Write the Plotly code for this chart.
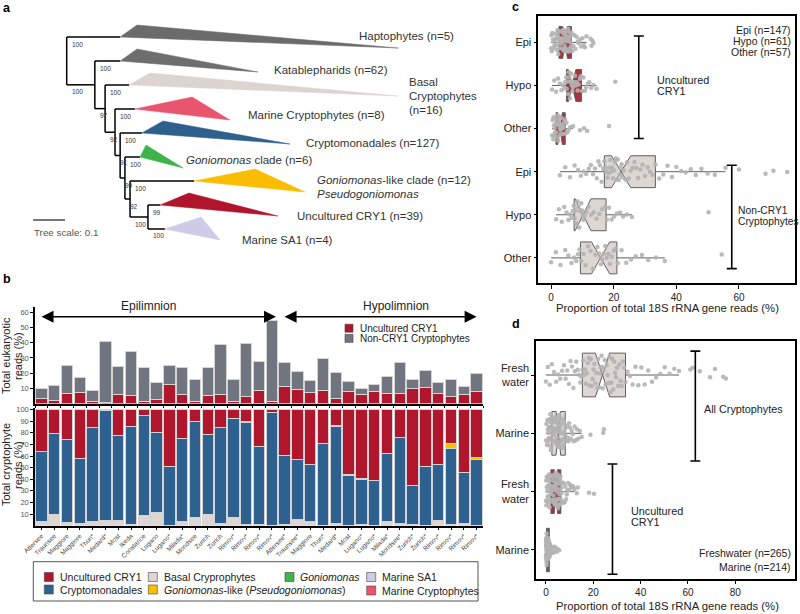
import plotly.graph_objects as go

W, H = 800, 614
FONT = "Liberation Sans, Arial, sans-serif"

RED = "#b0172d"
BLUE = "#2e6190"
GREY = "#70757f"
BASAL = "#ddd6d3"
YELLOW = "#fbbf00"
GREEN = "#3cb54b"
SA1 = "#cecbe6"
MARCRYPT = "#e9546f"
BOXRED = "#a6343d"
BOXDARK = "#2c1010"
DOT = "#b3b3b3"

# ---------------- a: collapsed 18S tree ----------------
clade_labels = [["Haptophytes (n=5)"], ["Katablepharids (n=62)"], ["Basal", "Cryptophytes", "(n=16)"],
                ["Marine Cryptophytes (n=8)"], ["Cryptomonadales (n=127)"], ["<i>Goniomonas</i> clade (n=6)"],
                ["<i>Goniomonas</i>-like clade (n=12)", "<i>Pseudogoniomonas</i>"],
                ["Uncultured CRY1 (n=39)"], ["Marine SA1 (n=4)"]]
clade_colors = ["#6b6b6b", "#6e6e6e", "#dbd4d1", MARCRYPT, "#2f5f8c", "#3cb44b", "#fbbd02", "#b0152c", SA1]
clade_stem = [0.167, 0.167, 0.195, 0.213, 0.235, 0.229, 0.398, 0.292, 0.307]
clade_min_tip = [0.220, 0.220, 0.260, 0.392, 0.301, 0.248, 0.589, 0.382, 0.420]
clade_max_tip = [1.036, 0.598, 1.036, 0.510, 0.698, 0.364, 0.745, 0.660, 0.479]
clade_support = [100, 100, 100, 100, 100, 100, 100, 99, 100]
node_depth = [0.0, 0.088, 0.120, 0.151, 0.167, 0.182, 0.198, 0.254]
node_support = [None, 100, 97, 92, 91, 99, 92, 100]
tree_scale = 0.1

# ---------------- b: lake samples ----------------
lakes = ["Attersee", "Traunsee", "Maggiore", "Maggiore", "Thun*", "Medard*", "Most", "Ikeda",
         "Constance", "Lugano", "Lugano*", "Milada*", "Mondsee", "Zurich", "Zurich",
         "Rimov*", "Rimov*", "Rimov*", "Rimov*",
         "Attersee*", "Traunsee*", "Maggiore", "Thun*", "Medard*", "Most", "Lugano*", "Lugano*",
         "Milada*", "Mondsee*", "Zurich*", "Zurich*", "Rimov*", "Rimov*", "Rimov*", "Rimov*"]
# % of total eukaryotic reads
cry1_euk = [3.6, 2.3, 6.7, 7.1, 1.4, 0.5, 5.6, 5.2, 1.0, 2.7, 12.2, 6.0, 1.6, 5.2, 6.0, 1.2, 4.3, 8.7, 1.6,
            10.9, 9.1, 7.3, 8.7, 3.0, 8.2, 6.0, 7.6, 6.9, 6.5, 10.2, 10.6, 6.5, 4.9, 6.0, 8.2]
noncry1_euk = [6.2, 9.4, 18.0, 9.7, 7.0, 40.4, 18.9, 28.7, 22.4, 11.2, 12.5, 17.6, 13.9, 18.8, 32.5, 14.7, 35.3,
               19.0, 53.3, 16.4, 11.8, 7.9, 20.8, 17.3, 6.6, 4.0, 5.2, 10.8, 20.4, 5.3, 10.8, 7.2, 11.2, 4.9, 11.6]
# % of total cryptophyte reads
basal = [3.7, 10.0, 2.5, 1.7, 3.4, 4.5, 4.3, 1.1, 8.9, 11.4, 0.5, 3.7, 7.4, 9.7, 1.7, 7.4, 0.8, 0.8, 0.5,
         0.8, 5.1, 3.7, 0.2, 1.7, 0.5, 1.1, 0.5, 3.4, 2.0, 1.1, 0.5, 4.5, 1.0, 1.7, 0.5]
cryptomonadales = [59.8, 69.3, 71.4, 55.8, 81.4, 94.8, 73.0, 84.3, 86.5, 68.5, 50.1, 71.3, 82.3, 68.8, 83.1,
                   84.9, 88.2, 67.2, 96.9, 59.5, 51.8, 48.6, 70.5, 83.9, 42.9, 38.8, 38.3, 58.7, 74.4, 33.6,
                   50.1, 48.6, 65.4, 44.0, 56.9]
gonio_like = [0, 0, 0, 0, 0, 0, 0, 0, 0, 0, 0, 0, 0, 0, 0, 0, 0.5, 0, 0,
              0, 0, 0, 0, 1.0, 0.3, 0.4, 0, 0.5, 0, 0, 0, 0, 4.6, 0, 1.7]
cry1_crypto = [36.5, 20.7, 26.1, 42.5, 15.2, 0.7, 22.7, 14.6, 4.6, 20.1, 49.4, 25.0, 10.3, 21.5, 15.2,
               7.7, 10.5, 32.0, 2.6, 39.7, 43.1, 47.7, 29.3, 13.4, 56.3, 59.7, 61.2, 37.4, 23.6, 65.3,
               49.4, 46.9, 29.0, 54.3, 40.9]

# ---------------- c: CRY1 / non-CRY1 by layer ----------------
c_groups = ["Epi", "Hypo", "Other", "Epi", "Hypo", "Other"]
cry1_epi = [0.0, 0.1, 0.2, 0.4, 0.6, 0.8, 1.0, 1.1, 1.3, 1.5, 1.6, 1.8, 1.9, 2.0, 2.1, 2.3, 2.4, 2.5,
            2.6, 2.7, 2.8, 3.0, 3.1, 3.2, 3.3, 3.5, 3.6, 3.7, 3.8, 3.9, 4.0, 4.1, 4.2, 4.3, 4.4, 4.5,
            4.7, 4.8, 4.9, 5.0, 5.1, 5.2, 5.3, 5.5, 5.6, 5.7, 5.8, 5.9, 6.0, 6.1, 6.2, 6.3, 6.5,
            6.8, 7.1, 7.4, 7.8, 8.1, 8.5, 8.8, 9.2, 9.6, 10.0, 10.4, 10.8, 11.3, 12.6, 12.9, 13.2, 13.5]
cry1_hypo = [0.3, 1.0, 1.6, 2.2, 2.8, 3.3, 3.8, 4.2, 4.5, 4.8, 5.0, 5.2, 5.4, 5.6, 5.8, 6.0, 6.2, 6.3, 6.5, 6.6,
             6.8, 7.0, 7.3, 7.6, 7.9, 8.2, 8.5, 8.8, 9.2, 9.5, 9.9, 10.3, 10.8, 11.2, 11.7, 12.2, 12.8, 13.5,
             14.5, 20.5]
cry1_other = [0.3, 0.5, 0.7, 0.8, 0.9, 1.0, 1.1, 1.2, 1.4, 1.5, 1.6, 1.7, 1.9, 2.0, 2.2, 2.3, 2.4, 2.6, 2.7,
              2.8, 2.9, 3.0, 3.2, 3.3, 3.5, 3.7, 3.8, 4.0, 4.2, 4.4, 4.6, 4.9, 5.2, 5.6, 6.1, 7.0, 9.2, 10.5,
              11.5, 18.5]
non_epi = [2.8, 4.5, 6.0, 7.5, 8.6, 9.5, 10.4, 11.2, 12.0, 12.7, 13.4, 14.0, 14.6, 15.1, 15.6, 16.1, 16.6, 17.0,
           17.3, 17.6, 18.0, 18.3, 18.6, 18.9, 19.2, 19.5, 19.8, 20.1, 20.4, 20.7, 21.0, 21.3, 21.6, 21.9, 22.2,
           22.5, 22.7, 23.2, 23.7, 24.2, 24.8, 25.4, 26.0, 26.6, 27.2, 27.8, 28.5, 29.2, 30.0, 30.8, 31.6, 32.4,
           33.3, 34.5, 35.8, 37.2, 38.6, 40.0, 41.5, 43.0, 44.6, 46.2, 48.0, 50.0, 52.3, 55.7, 60.0, 68.5, 71.0,
           75.4]
non_hypo = [1.6, 2.5, 3.4, 4.2, 4.9, 5.5, 6.0, 6.5, 6.9, 7.2, 7.5, 7.8, 8.1, 8.4, 8.7, 9.0, 9.3, 9.6, 9.9, 10.1,
            10.3, 10.7, 11.3, 12.0, 12.8, 13.6, 14.5, 15.4, 16.3, 17.3, 17.8, 18.5, 19.3, 20.1, 21.0, 22.0,
            23.0, 24.2, 25.8, 50.3]
non_other = [0.0, 1.5, 3.0, 4.5, 5.5, 6.5, 7.3, 8.0, 8.6, 9.1, 9.6, 10.3, 11.0, 11.8, 12.6, 13.4, 14.1, 14.8,
             15.3, 15.7, 15.9, 16.3, 16.8, 17.3, 17.8, 18.3, 18.8, 19.4, 20.0, 20.7, 21.3, 22.5, 24.0, 25.5,
             27.0, 29.0, 31.0, 33.5, 36.3, 54.5]
c_counts = ["Epi (n=147)", "Hypo (n=61)", "Other (n=57)"]

# ---------------- d: freshwater vs marine ----------------
d_groups = ["Fresh<br>water", "Marine", "Fresh<br>water", "Marine"]
all_fresh = [0.0, 0.8, 1.6, 2.5, 3.4, 4.3, 5.2, 6.0, 6.8, 7.6, 8.3, 9.0, 9.7, 10.4, 11.0, 11.6, 12.2, 12.8,
             13.4, 14.0, 14.5, 15.0, 15.4, 15.7, 16.1, 16.5, 16.9, 17.3, 17.7, 18.1, 18.5, 18.9, 19.3, 19.7,
             20.1, 20.5, 20.9, 21.3, 21.7, 22.1, 22.5, 22.9, 23.2, 23.5, 23.8, 24.0, 24.4, 24.8, 25.2, 25.6,
             26.0, 26.4, 26.8, 27.2, 27.6, 28.0, 28.4, 28.8, 29.2, 29.6, 30.0, 30.5, 31.0, 31.5, 32.0, 32.5,
             33.0, 33.6, 34.5, 35.5, 36.6, 37.8, 39.0, 40.3, 41.7, 43.2, 44.8, 46.5, 48.3, 50.2, 52.2, 54.2,
             56.2, 61.0, 62.0, 65.0, 69.3, 71.4, 74.9, 76.0]
all_marine = [0.0, 0.2, 0.4, 0.6, 0.8, 1.0, 1.1, 1.2, 1.3, 1.4, 1.5, 1.6, 1.7, 1.8, 1.9, 2.0, 2.1, 2.2, 2.3,
              2.4, 2.6, 2.8, 3.0, 3.2, 3.4, 3.5, 3.7, 3.8, 3.9, 4.0, 4.2, 4.3, 4.5, 4.6, 4.7, 4.8, 4.9, 5.0,
              5.1, 5.2, 5.3, 5.4, 5.5, 5.6, 5.7, 5.8, 5.9, 6.0, 6.2, 6.3, 6.5, 6.7, 6.9, 7.0, 7.2, 7.4, 7.5,
              7.7, 7.8, 8.0, 8.3, 8.6, 8.9, 9.2, 9.5, 9.8, 10.1, 10.5, 10.9, 11.3, 11.7, 12.1, 12.6, 13.1,
              13.6, 14.3, 15.1, 18.8, 24.2, 24.5]
cry1_fresh = [0.0, 0.1, 0.2, 0.3, 0.4, 0.5, 0.6, 0.7, 0.8, 0.9, 1.0, 1.1, 1.2, 1.3, 1.4, 1.5, 1.6, 1.7, 1.8,
              1.9, 2.0, 2.05, 2.1, 2.2, 2.3, 2.4, 2.5, 2.6, 2.7, 2.8, 2.9, 3.0, 3.1, 3.2, 3.3, 3.4, 3.5, 3.6,
              3.7, 3.8, 3.9, 4.0, 4.05, 4.1, 4.15, 4.25, 4.35, 4.45, 4.55, 4.65, 4.75, 4.85, 4.95, 5.05, 5.15,
              5.25, 5.35, 5.45, 5.55, 5.65, 5.75, 5.85, 5.95, 6.0, 6.05, 6.1, 6.15, 6.3, 6.5, 6.7, 6.9, 7.1,
              7.3, 7.6, 7.9, 8.2, 8.5, 8.8, 9.1, 9.4, 9.8, 10.2, 10.6, 11.0, 11.5, 12.0, 13.0, 13.5, 18.2, 20.3]
cry1_marine = [0.0, 0.0, 0.05, 0.1, 0.1, 0.15, 0.15, 0.2, 0.2, 0.2, 0.25, 0.25, 0.3, 0.3, 0.3, 0.3, 0.3, 0.3,
               0.35, 0.4, 0.4, 0.45, 0.5, 0.5, 0.55, 0.6, 0.6, 0.65, 0.7, 0.7, 0.75, 0.75, 0.8, 0.8, 0.8, 0.8,
               0.85, 0.85, 0.9, 0.9, 0.95, 1.0, 1.0, 1.05, 1.1, 1.1, 1.15, 1.2, 1.25, 1.3, 1.3, 1.35, 1.4,
               1.5, 1.6, 1.7, 1.8, 1.9, 2.0, 2.2, 2.4, 2.6, 2.8, 3.0, 3.3, 3.7, 4.1, 4.6, 5.1, 5.6]
d_counts = ["Freshwater (n=265)", "Marine (n=214)"]

XTITLE = "Proportion of total 18S rRNA gene reads (%)"


def px(x):
    return x / W


def py(y):
    return 1 - y / H


fig = go.Figure()
ann = []
shapes = []


def text(x, y, s, size=11, anchor="left", color="#222", **kw):
    ann.append(dict(x=px(x), y=py(y), xref="paper", yref="paper", text=s, showarrow=False,
                    xanchor=anchor, yanchor="middle", font=dict(size=size, color=color), **kw))


# ---------- panel a ----------
leaf_y = list(range(len(clade_labels)))
nn = len(node_depth)
node_y = [0.0] * nn
node_y[-1] = (leaf_y[-2] + leaf_y[-1]) / 2
for k in range(nn - 2, -1, -1):
    node_y[k] = (leaf_y[k] + node_y[k + 1]) / 2

lx, ly = [], []
for k in range(nn):
    last = k == nn - 1
    low = leaf_y[k + 1] if last else node_y[k + 1]
    lx += [node_depth[k], node_depth[k], None]
    ly += [leaf_y[k], low, None]
    lx += [node_depth[k], clade_stem[k], None]
    ly += [leaf_y[k], leaf_y[k], None]
    if last:
        lx += [node_depth[k], clade_stem[k + 1], None]
        ly += [leaf_y[k + 1], leaf_y[k + 1], None]
    else:
        lx += [node_depth[k], node_depth[k + 1], None]
        ly += [node_y[k + 1], node_y[k + 1], None]

fig.add_trace(go.Scatter(x=lx, y=ly, mode="lines", line=dict(color="black", width=1.5),
                         xaxis="x5", yaxis="y5", hoverinfo="skip", showlegend=False))
for i in range(len(clade_labels)):
    fig.add_trace(go.Scatter(x=[clade_stem[i], clade_min_tip[i], clade_max_tip[i], clade_stem[i]],
                             y=[i, i - 0.5, i + 0.46, i], mode="lines", fill="toself",
                             fillcolor=clade_colors[i], line=dict(color=clade_colors[i], width=0.5),
                             xaxis="x5", yaxis="y5", hoverinfo="skip", showlegend=False))
fig.add_trace(go.Scatter(x=[-0.105, -0.105 + tree_scale], y=[7.625, 7.625], mode="lines",
                         line=dict(color="#777", width=2), xaxis="x5", yaxis="y5",
                         hoverinfo="skip", showlegend=False))

for i, s in enumerate(clade_support):
    parent = node_depth[min(i, nn - 1)]
    ann.append(dict(x=parent, y=leaf_y[i], xref="x5", yref="y5", text=str(s), showarrow=False,
                    xanchor="left", yanchor="middle", xshift=3, yshift=-7,
                    font=dict(size=6.5, color="#333")))
for k in range(1, nn):
    ann.append(dict(x=node_depth[k - 1], y=node_y[k], xref="x5", yref="y5", text=str(node_support[k]),
                    showarrow=False, xanchor="left", yanchor="middle", xshift=3, yshift=-7,
                    font=dict(size=6.5, color="#333")))

label_pos = [(357, 35.5), (272, 70.5), (407, 82), (246, 115), (304, 143), (184, 160),
             (315, 179.5), (295, 216), (240, 239.5)]
for lines, (x0, y0) in zip(clade_labels, label_pos):
    for j, s in enumerate(lines):
        text(x0, y0 + 14 * j, s, size=11.5, color="#333")
text(32, 233, "Tree scale: 0.1", size=9.8, color="#555")

# ---------- panel b ----------
xs = list(range(len(lakes)))
bar_line = dict(color="#d4d4d4", width=1)
fig.add_trace(go.Bar(x=xs, y=cry1_euk, marker=dict(color=RED, line=bar_line), xaxis="x", yaxis="y",
                     name="Uncultured CRY1", showlegend=False))
fig.add_trace(go.Bar(x=xs, y=noncry1_euk, marker=dict(color=GREY, line=bar_line), xaxis="x", yaxis="y",
                     name="Non-CRY1 Cryptophytes", showlegend=False))
for vals, col, nm in [(basal, BASAL, "Basal Cryprophytes"), (cryptomonadales, BLUE, "Cryptomonadales"),
                      (gonio_like, YELLOW, "Goniomonas-like"), (cry1_crypto, RED, "Uncultured CRY1")]:
    fig.add_trace(go.Bar(x=xs, y=vals, marker=dict(color=col, line=bar_line), xaxis="x2", yaxis="y2",
                         name=nm, showlegend=False))

for x0, x1, lab, xc in [(-0.11, 18.33, "Epilimnion", 8.33), (18.88, 34.0, "Hypolimnion", 27.7)]:
    ann.append(dict(x=x1, y=57.1, ax=x0, ay=57.1, xref="x", yref="y", axref="x", ayref="y", text="",
                    showarrow=True, arrowhead=2, startarrowhead=2, arrowside="end+start",
                    arrowsize=1.6, startarrowsize=1.6, arrowwidth=1.5, arrowcolor="black"))
    ann.append(dict(x=xc, y=py(306), xref="x", yref="paper", text=lab, showarrow=False,
                    xanchor="center", yanchor="middle", font=dict(size=12, color="#222")))

# top legend
for yy, col, lab in [(328.2, RED, "Uncultured CRY1"), (338.4, GREY, "Non-CRY1 Cryptophytes")]:
    shapes.append(dict(type="rect", xref="paper", yref="paper", x0=px(345), x1=px(353),
                       y0=py(yy - 4), y1=py(yy + 4), fillcolor=col, line=dict(color="#444", width=0.6)))
    text(358, yy, lab, size=10)

# axis titles
for yc, l1, l2 in [(356, "Total eukaryotic", "reads (%)"), (465, "Total cryptophyte", "reads (%)")]:
    text(6, yc, l1, size=11, anchor="center", textangle=-90)
    text(18, yc, l2, size=11, anchor="center", textangle=-90)

# bottom legend box
shapes.append(dict(type="rect", xref="paper", yref="paper", x0=px(33.3), x1=px(478), y0=py(601),
                   y1=py(561.7), line=dict(color="#555", width=1)))
leg_items = [(44.3, 577, RED, "Uncultured CRY1"), (44.3, 589.5, BLUE, "Cryptomonadales"),
             (148.3, 577, BASAL, "Basal Cryprophytes"),
             (148.3, 589.5, YELLOW, "<i>Goniomonas</i>-like (<i>Pseudogoniomonas</i>)"),
             (285, 577, GREEN, "<i>Goniomonas</i>"), (366.7, 577, SA1, "Marine SA1"),
             (366.7, 590.5, MARCRYPT, "Marine Cryptophytes")]
for x0, yy, col, lab in leg_items:
    shapes.append(dict(type="rect", xref="paper", yref="paper", x0=px(x0), x1=px(x0 + 9),
                       y0=py(yy - 4.5), y1=py(yy + 4.5), fillcolor=col, line=dict(color="#444", width=0.6)))
    text(x0 + 13.4, yy, lab, size=10.5)


# ---------- panels c and d ----------
def add_box(vals, pos, fill, xa, ya, width):
    fig.add_trace(go.Box(x=vals, y0=pos, orientation="h", xaxis=xa, yaxis=ya, notched=True,
                         notchwidth=0.5, width=width, fillcolor=fill, line=dict(color="#5f5f5f", width=1),
                         whiskerwidth=0, boxpoints="all", jitter=0.9, pointpos=0,
                         marker=dict(color=DOT, size=4.5, opacity=0.9, line=dict(width=0)),
                         showlegend=False, hoverinfo="x"))


for i, (vals, fill) in enumerate([(cry1_epi, BOXRED), (cry1_hypo, BOXRED), (cry1_other, BOXRED),
                                  (non_epi, BASAL), (non_hypo, BASAL), (non_other, BASAL)]):
    add_box(vals, i, fill, "x3", "y3", 0.74)
for i, (vals, fill) in enumerate([(all_fresh, BASAL), (all_marine, BASAL), (cry1_fresh, BOXRED),
                                  (cry1_marine, BOXDARK)]):
    add_box(vals, i, fill, "x4", "y4", 0.75)


def bracket(xa, ya, x, y0, y1, cap):
    for seg in [(x, y0, x, y1), (x - cap, y0, x + cap, y0), (x - cap, y1, x + cap, y1)]:
        shapes.append(dict(type="line", xref=xa, yref=ya, x0=seg[0], y0=seg[1], x1=seg[2], y1=seg[3],
                           line=dict(color="black", width=1.6)))


bracket("x3", "y3", 28.0, -0.15, 2.23, 1.6)
bracket("x3", "y3", 57.7, 2.85, 5.25, 1.6)
bracket("x4", "y4", 63.1, -0.41, 1.475, 2.1)
bracket("x4", "y4", 28.1, 1.525, 3.417, 2.1)

text(655, 80.5, "Uncultured", size=10.8)
text(655, 91.5, "CRY1", size=10.8)
text(736, 210.5, "Non-CRY1", size=10.3)
text(736, 221.8, "Cryptophytes", size=10.3)
for j, s in enumerate(c_counts):
    text(793, 30.3 + 11 * j, s, size=10.5, anchor="right")
text(667, 308.3, XTITLE, size=11.3, anchor="center")

text(701.7, 408.5, "All Cryptophytes", size=10.8)
text(629.3, 510.5, "Uncultured", size=10.8)
text(629.3, 521.8, "CRY1", size=10.8)
text(793, 553.3, d_counts[0], size=10.5, anchor="right")
text(793, 566.8, d_counts[1], size=10.5, anchor="right")
text(667, 605.5, XTITLE, size=11.3, anchor="center")

# panel letters
for x0, y0, s in [(0.5, 8, "a"), (0.5, 279, "b"), (510, 7, "c"), (510, 324, "d")]:
    text(x0, y0, "<b>%s</b>" % s, size=12.5, color="black")

ax_common = dict(showgrid=False, zeroline=False, showline=True, linecolor="black", automargin=False)
box_x = dict(ax_common, mirror=True, linewidth=1.6, ticks="outside", ticklen=4, tickcolor="black",
             tickfont=dict(size=10, color="#222"))
box_y = dict(ax_common, mirror=True, linewidth=1.6, ticks="outside", ticklen=3, tickcolor="black",
             tickfont=dict(size=11, color="#222"))
bx = [px(35), px(483)]

fig.update_layout(
    width=W, height=H, margin=dict(l=0, r=0, t=0, b=0, autoexpand=False), autosize=False,
    paper_bgcolor="white", plot_bgcolor="white", font=dict(family=FONT, color="#222"),
    barmode="stack", bargap=0.1, showlegend=False,
    xaxis=dict(ax_common, domain=bx, range=[-0.5, len(lakes) - 0.5], anchor="y", linewidth=2,
               ticks="outside", ticklen=2, tickcolor="black", tickmode="array",
               tickvals=[i - 0.5 for i in range(len(lakes) + 1)], showticklabels=False),
    yaxis=dict(ax_common, domain=[py(403.5), py(306.7)], range=[0, 63.7], anchor="x", linewidth=1.5,
               ticks="outside", ticklen=3, tickcolor="black", tickvals=[10, 20, 30, 40, 50, 60],
               tickfont=dict(size=7.5, color="#555")),
    xaxis2=dict(ax_common, domain=bx, range=[-0.5, len(lakes) - 0.5], anchor="y2", linewidth=2,
                ticks="outside", ticklen=2, tickcolor="black", tickmode="array", tickvals=xs,
                ticktext=lakes, tickangle=-45, tickfont=dict(size=6.5, color="#444")),
    yaxis2=dict(ax_common, domain=[py(525.6), py(408.3)], range=[0, 101.2], anchor="x2", linewidth=1.5,
                ticks="outside", ticklen=3, tickcolor="black",
                tickvals=[10, 20, 30, 40, 50, 60, 70, 80, 90, 100], tickfont=dict(size=7.5, color="#555")),
    xaxis3=dict(box_x, domain=[px(538.3), px(795)], range=[-4.1, 77.9], anchor="y3",
                tickvals=[0, 20, 40, 60]),
    yaxis3=dict(box_y, domain=[py(283.3), py(15.7)], range=[5.59, -0.62], anchor="x3",
                tickmode="array", tickvals=list(range(6)), ticktext=c_groups),
    xaxis4=dict(box_x, domain=[px(536), px(795)], range=[-4.2, 105.2], anchor="y4",
                tickvals=[0, 20, 40, 60, 80]),
    yaxis4=dict(box_y, domain=[py(578.5), py(341)], range=[3.489, -0.583], anchor="x4",
                tickmode="array", tickvals=list(range(4)), ticktext=d_groups),
    xaxis5=dict(domain=[0, px(470)], range=[-0.2084, 1.2603], visible=False, anchor="y5", automargin=False),
    yaxis5=dict(domain=[py(275), 1], range=[9.917, -1.542], visible=False, anchor="x5", automargin=False),
    annotations=ann, shapes=shapes,
)

# the page's default 8px body margin would push the 800x614 figure out of the window
fig.write_html("out.html", config={"displayModeBar": False},
               post_script="document.body.style.margin='0';")
